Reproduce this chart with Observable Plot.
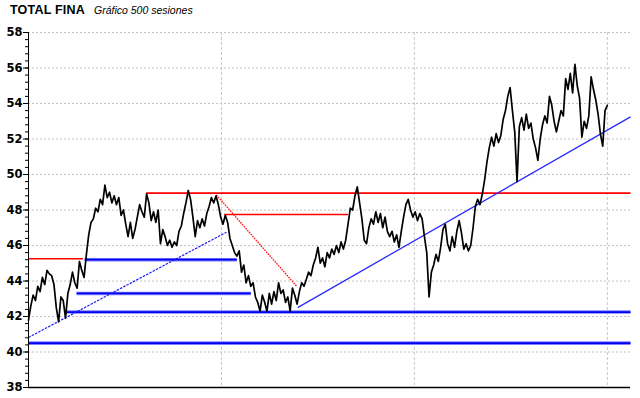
<!DOCTYPE html>
<html><head><meta charset="utf-8">
<script src="https://cdn.jsdelivr.net/npm/d3@7"></script>
<script src="https://cdn.jsdelivr.net/npm/@observablehq/plot@0.6"></script>
<style>
body{margin:0;background:#fff;}
#wrap{position:relative;width:640px;height:398px;}
.t{position:absolute;white-space:nowrap;line-height:1;font-family:"Liberation Sans",Arial,sans-serif;color:#000;}
#t1{left:10px;top:4px;font-size:12.5px;font-weight:bold;letter-spacing:0.2px;}
#t2{left:94px;top:5px;font-size:10.5px;font-style:italic;}
</style></head><body>
<div id="wrap"><div class="t" id="t1">TOTAL FINA</div><div class="t" id="t2">Gráfico 500 sesiones</div></div>
<script>
// one value every 2 sessions (session 0 .. 500)
const sessionStep = 2;
const prices = [
 41.8, 42.6, 43.2, 42.9, 43.7, 43.4, 44.2, 43.8, 44.6, 44.4,
 44.3, 43.8, 42.5, 41.7, 43.1, 42.9, 41.9, 43.3, 43.8, 44.5,
 43.9, 43.6, 45.1, 44.6, 44.2, 45.5, 46.6, 47.3, 47.5, 48.1,
 47.9, 48.6, 48.3, 49.4, 48.7, 49.0, 48.4, 48.8, 48.3, 48.7,
 47.7, 48.0, 47.2, 46.5, 47.3, 46.4, 46.9, 47.6, 48.3, 47.9,
 47.6, 48.9, 48.4, 47.4, 47.9, 47.3, 48.0, 46.1, 46.9, 46.5,
 46.0, 46.3, 45.9, 46.2, 46.0, 46.8, 47.1, 47.8, 48.4, 49.1,
 48.6, 47.6, 46.5, 47.4, 47.0, 47.5, 47.1, 47.8, 48.2, 48.7,
 48.4, 48.8, 48.3, 47.6, 47.2, 47.7, 47.3, 46.4, 46.0, 45.6,
 45.4, 45.7, 44.5, 44.9, 43.9, 44.3, 43.7, 43.9, 43.1, 42.8,
 42.3, 43.2, 42.8, 42.3, 43.3, 42.7, 43.4, 42.9, 43.9, 43.3,
 43.5, 42.8, 43.1, 42.3, 43.6, 43.2, 42.7, 43.4, 43.9, 43.7,
 44.1, 44.5, 44.3, 44.9, 45.3, 45.9, 45.0, 45.3, 44.8, 45.6,
 45.3, 45.8, 45.5, 46.0, 45.6, 46.2, 45.8, 46.3, 47.2, 48.1,
 48.0, 48.8, 49.3, 48.4, 47.5, 46.3, 46.1, 47.0, 47.5, 47.2,
 47.9, 47.3, 47.8, 47.0, 47.6, 46.8, 46.5, 46.8, 46.2, 46.6,
 45.9, 46.8, 47.6, 48.3, 48.6, 48.0, 47.6, 47.9, 47.4, 47.8,
 47.5, 46.5, 45.6, 43.1, 44.5, 44.9, 45.5, 45.1, 45.9, 46.9,
 47.2, 46.1, 45.7, 46.5, 45.9, 46.8, 47.4, 46.7, 45.8, 46.1,
 45.7, 46.0, 47.0, 48.2, 48.6, 48.3, 48.9, 49.7, 50.7, 51.5,
 52.1, 51.6, 52.3, 51.8, 52.2, 53.1, 53.6, 54.4, 54.9, 53.6,
 52.4, 49.6, 52.7, 53.2, 52.5, 53.4, 52.6, 52.9, 52.0, 51.5,
 50.8, 52.0, 52.8, 53.3, 52.9, 54.4, 53.9, 53.0, 52.4, 53.0,
 53.6, 53.3, 55.4, 54.8, 55.7, 54.6, 56.2, 55.0, 54.3, 52.1,
 53.0, 52.6, 53.3, 55.5, 54.8, 54.2, 53.4, 52.3, 51.6, 53.6, 53.9
];

// horizontal support / resistance levels
const levelValues  = [45.25, 48.95, 47.75, 45.2, 43.3, 42.25, 40.5];
const levelStart   = [0,     101.5, 169,   48.5, 41.5, 31,    0];
const levelEnd     = [47,    520,   276,   180,  192,  520,   520];
const levelKind    = ["resistance","resistance","resistance","support","support","support","support"];

// trend lines
const trendStartSession = [162.3, 0,     232.5];
const trendStartPrice   = [48.85, 40.82, 42.5];
const trendEndSession   = [231.4, 171,   520];
const trendEndPrice     = [43.72, 46.75, 53.25];
const trendKind         = ["downDotted","upDotted","upSolid"];

const yTicks = [38, 40, 42, 44, 46, 48, 50, 52, 54, 56, 58];
const yMinorTicks = d3.range(0, 51).map(i => 38 + i * 0.4);
const verticalGridSessions = [166.7, 333.3, 500];
const xDomain = [0, 520];

const data = prices.map((p, i) => ({session: i * sessionStep, price: p}));
const levels = levelValues.map((v, i) => ({v, x1: levelStart[i], x2: levelEnd[i], kind: levelKind[i]}));
const supports = levels.filter(d => d.kind === "support");
const resist = levels.filter(d => d.kind === "resistance");
const trends = trendKind.map((k, i) => ({x1: trendStartSession[i], y1: trendStartPrice[i], x2: trendEndSession[i], y2: trendEndPrice[i], kind: k}));
const lk = {x1: "x1", x2: "x2", y1: "v", y2: "v"};
const tk = {x1: "x1", x2: "x2", y1: "y1", y2: "y2"};

const chart = Plot.plot({
  width: 640, height: 398,
  marginLeft: 28, marginRight: 10, marginTop: 32, marginBottom: 11,
  x: {domain: xDomain, axis: null},
  y: {domain: [38, 58], axis: null},
  style: {background: "white", fontFamily: "DejaVu Sans"},
  marks: [
    Plot.gridY(yTicks.slice(1), {stroke: "#c2c2c2", strokeOpacity: 1, strokeDasharray: "2,2"}),
    Plot.gridX(verticalGridSessions, {stroke: "#c8c8c8", strokeOpacity: 1, strokeDasharray: "3,2"}),
    Plot.link(supports, {...lk, stroke: "#8080ff", strokeWidth: 3.6}),
    Plot.link(supports, {...lk, stroke: "#0000ee", strokeWidth: 1.8}),
    Plot.link(resist, {...lk, stroke: "#ff0000", strokeWidth: 1.6}),
    Plot.link(trends.filter(d => d.kind === "downDotted"), {...tk, stroke: "#ff1010", strokeWidth: 1.3, strokeDasharray: "1.6,1"}),
    Plot.link(trends.filter(d => d.kind === "upDotted"), {...tk, stroke: "#1a1aff", strokeWidth: 1.2, strokeDasharray: "2.5,1.2"}),
    Plot.link(trends.filter(d => d.kind === "upSolid"), {...tk, stroke: "#2a2aff", strokeWidth: 1.3}),
    Plot.line(data, {x: "session", y: "price", stroke: "black", strokeWidth: 1.7}),
    Plot.ruleX([0], {stroke: "black", strokeWidth: 1}),
    Plot.ruleY([38], {stroke: "black", strokeWidth: 1.5}),
    Plot.axisY(yMinorTicks, {tickSize: 3, tickFormat: () => "", stroke: "black"}),
    Plot.axisY(yTicks, {tickSize: 5, tickPadding: 1, fontWeight: "bold", fontSize: 11.5, fill: "black", stroke: "black"})
  ]
});
document.getElementById("wrap").appendChild(chart);
chart.style.display = "block";
</script>
</body></html>
